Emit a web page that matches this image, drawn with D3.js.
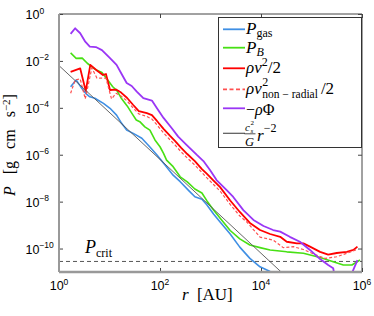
<!DOCTYPE html>
<html>
<head>
<meta charset="utf-8">
<script src="https://cdn.jsdelivr.net/npm/d3@7"></script>
<style>
  body { margin: 0; background: #fff; }
  svg text { font-family: "Liberation Serif", "DejaVu Serif", serif; fill: #000; }
  .tlab { font-family: "Liberation Sans", Arial, sans-serif; }
</style>
</head>
<body>
<div id="chart"></div>
<script>
// radial profiles: log10 r [AU], log10 P [g cm^-1 s^-2]
const rGas = [0.23,0.34,0.45,0.54,0.61,0.71,0.88,1.01,1.14,1.24,1.34,1.47,1.64,1.80,1.94,2.10,2.26,2.40,2.56,2.69,2.83,2.93,3.06,3.19,3.39,3.58,3.78,3.98,4.18,4.42];
const pGas = [-3.10,-2.81,-3.17,-3.41,-3.53,-3.59,-3.81,-4.02,-4.31,-4.66,-4.95,-5.09,-5.30,-5.67,-6.01,-6.44,-6.87,-7.15,-7.51,-7.79,-7.90,-8.14,-8.53,-8.87,-9.38,-9.94,-10.42,-10.78,-10.98,-11.05];

const rB = [0.23,0.34,0.46,0.56,0.71,0.85,0.95,1.06,1.15,1.23,1.35,1.45,1.53,1.60,1.70,1.80,1.90,2.00,2.07,2.13,2.26,2.40,2.54,2.69,2.83,2.93,3.06,3.22,3.39,3.58,3.78,3.98,4.18,4.51,4.84,5.17,5.43,5.63,5.80,5.96];
const pB = [-1.66,-1.89,-1.88,-2.10,-2.35,-2.49,-2.77,-3.09,-3.28,-3.58,-3.92,-4.26,-4.52,-4.59,-4.81,-4.95,-5.37,-5.66,-5.94,-6.23,-6.51,-6.94,-7.16,-7.46,-7.63,-7.97,-8.36,-8.78,-9.23,-9.59,-9.85,-9.96,-10.06,-10.14,-10.20,-10.38,-10.56,-10.70,-10.70,-10.49];

const rKin = [0.23,0.42,0.53,0.62,0.75,0.87,0.93,1.01,1.13,1.23,1.35,1.47,1.58,1.74,1.84,1.94,2.07,2.20,2.30,2.42,2.54,2.69,2.83,2.93,3.06,3.19,3.39,3.58,3.78,3.98,4.18,4.38,4.51,4.71,4.84,4.97,5.17,5.33,5.50,5.70,5.83,5.91];
const pKin = [-2.47,-2.32,-3.28,-2.17,-2.41,-2.60,-2.56,-3.24,-3.22,-3.35,-3.58,-3.88,-4.14,-4.23,-4.31,-4.56,-4.90,-5.20,-5.42,-5.71,-5.97,-6.27,-6.61,-6.82,-7.10,-7.38,-7.95,-8.44,-8.91,-9.21,-9.38,-9.50,-9.71,-9.78,-9.78,-9.92,-10.14,-10.26,-10.19,-10.14,-10.06,-9.92];

const rNr = [0.23,0.32,0.42,0.52,0.65,0.75,0.93,1.04,1.13,1.23,1.35,1.47,1.58,1.74,1.84,1.94,2.07,2.20,2.30,2.42,2.54,2.69,2.83,2.93,3.06,3.19,3.39,3.58,3.72,3.84,3.98,4.24,4.44,4.64,4.84,5.04,5.17,5.27,5.50,5.70,5.91];
const pNr = [-3.38,-2.81,-2.77,-3.62,-2.30,-2.73,-2.74,-3.62,-3.38,-3.50,-3.71,-4.01,-4.26,-4.37,-4.48,-4.73,-5.07,-5.37,-5.59,-5.88,-6.14,-6.44,-6.76,-6.99,-7.27,-7.55,-8.12,-8.61,-8.87,-9.17,-9.51,-9.64,-9.96,-9.92,-10.04,-10.23,-10.34,-10.42,-10.35,-10.20,-10.03];

const rPhi = [0.23,0.32,0.42,0.52,0.61,0.73,0.85,1.01,1.14,1.24,1.34,1.44,1.54,1.67,1.84,1.94,2.07,2.23,2.36,2.53,2.73,2.86,2.99,3.12,3.32,3.45,3.65,3.85,4.05,4.24,4.38,4.57,4.77,4.97,5.17,5.33,5.43,5.49,5.76,5.80,5.91];
const pPhi = [-0.85,-0.61,-0.82,-1.18,-1.39,-1.41,-1.54,-1.88,-2.17,-2.56,-2.94,-3.07,-3.31,-3.59,-3.69,-4.02,-4.43,-4.86,-5.23,-5.59,-6.01,-6.27,-6.65,-7.08,-7.51,-7.80,-8.36,-8.78,-9.04,-9.21,-9.28,-9.50,-9.71,-10.06,-10.45,-10.70,-10.84,-11.6,-11.6,-11.05,-10.49];

// cs^2/G r^-2 guide and critical pressure
const rFit = [0, 4.40];
const pFit = [-2.20, -11.0];
const pCrit = -10.55;

const xTicks = [0, 2, 4, 6];
const yTicks = [0, -2, -4, -6, -8, -10];

const width = 374, height = 316;
const margin = { top: 14, right: 12, bottom: 44, left: 59 };
const iw = width - margin.left - margin.right;
const ih = height - margin.top - margin.bottom;

const x = d3.scaleLog().domain([1, 1e6]).range([0, iw]);
const y = d3.scaleLog().domain([1e-11, 1]).range([ih, 0]);

const svg = d3.select("#chart").append("svg")
  .attr("width", width).attr("height", height);
const g = svg.append("g").attr("transform", `translate(${margin.left},${margin.top})`);

g.append("clipPath").attr("id", "clip")
  .append("rect").attr("width", iw).attr("height", ih);

const pts = (lr, lp) => lr.map((v, i) => ({ r: Math.pow(10, v), p: Math.pow(10, lp[i]) }));
const line = d3.line().x(d => x(d.r)).y(d => y(d.p));

const series = [
  { r: rGas, p: pGas, color: "#3f8fe4", w: 1.6 },
  { r: rB, p: pB, color: "#47e014", w: 1.6 },
  { r: rKin, p: pKin, color: "#ff0000", w: 1.8 },
  { r: rNr, p: pNr, color: "#ff5050", w: 1.2, dash: "3,2" },
  { r: rPhi, p: pPhi, color: "#9a36f5", w: 1.8 },
  { r: rFit, p: pFit, color: "#555", w: 0.9 }
];

const plot = g.append("g").attr("clip-path", "url(#clip)");

// P_crit
plot.append("line")
  .attr("x1", 0).attr("x2", iw)
  .attr("y1", y(Math.pow(10, pCrit))).attr("y2", y(Math.pow(10, pCrit)))
  .attr("stroke", "#555").attr("stroke-width", 1).attr("stroke-dasharray", "4,3");

plot.selectAll("path.s")
  .data(series)
  .join("path")
  .attr("class", "s")
  .attr("fill", "none")
  .attr("stroke", d => d.color)
  .attr("stroke-width", d => d.w)
  .attr("stroke-dasharray", d => d.dash || null)
  .attr("stroke-linejoin", "round")
  .attr("d", d => line(pts(d.r, d.p)));

// axes: inward ticks on all four sides
const xt = xTicks.map(v => Math.pow(10, v));
const yt = yTicks.map(v => Math.pow(10, v));
const tickStyle = ax => ax.call(a => a.select(".domain").remove())
  .call(a => a.selectAll("line").attr("stroke", "#444"));

g.append("g").attr("transform", `translate(0,${ih})`)
  .call(d3.axisBottom(x).tickValues(xt).tickSize(-4).tickFormat("")).call(tickStyle);
g.append("g")
  .call(d3.axisTop(x).tickValues(xt).tickSize(-4).tickFormat("")).call(tickStyle);
g.append("g")
  .call(d3.axisLeft(y).tickValues(yt).tickSize(-4).tickFormat("")).call(tickStyle);
g.append("g").attr("transform", `translate(${iw},0)`)
  .call(d3.axisRight(y).tickValues(yt).tickSize(-4).tickFormat("")).call(tickStyle);

// frame
g.append("line").attr("x1", 0).attr("x2", iw).attr("y1", 0).attr("y2", 0).attr("stroke", "#444").attr("stroke-width", 1);
g.append("line").attr("x1", iw).attr("x2", iw).attr("y1", 0).attr("y2", ih).attr("stroke", "#444").attr("stroke-width", 1);
g.append("line").attr("x1", 0).attr("x2", 0).attr("y1", 0).attr("y2", ih).attr("stroke", "#999").attr("stroke-width", 2);
g.append("line").attr("x1", 0).attr("x2", iw).attr("y1", ih).attr("y2", ih).attr("stroke", "#999").attr("stroke-width", 2.4);

// tick labels 10^n
const fmtExp = v => (v < 0 ? "\u2212" + (-v) : "" + v);
function powLabel(sel) {
  sel.append("tspan").text("10");
  sel.append("tspan").attr("font-size", 8.5).attr("dy", -5.5).text(d => fmtExp(d));
}
g.selectAll("text.xl").data(xTicks).join("text")
  .attr("class", "xl tlab")
  .attr("font-size", 12.5)
  .attr("text-anchor", "middle")
  .attr("x", d => x(Math.pow(10, d)))
  .attr("y", ih + 18)
  .call(powLabel);
g.selectAll("text.yl").data(yTicks).join("text")
  .attr("class", "yl tlab")
  .attr("font-size", 12.5)
  .attr("x", 25.5 - margin.left)
  .attr("y", d => y(Math.pow(10, d)) + 5)
  .call(powLabel);

// axis titles
const xTitle = svg.append("text").attr("x", 182).attr("y", 300).attr("font-size", 17)
  .attr("word-spacing", 4);
xTitle.append("tspan").attr("font-style", "italic").text("r");
xTitle.append("tspan").text(" [AU]");

const yTitle = svg.append("text")
  .attr("transform", "translate(15,196) rotate(-90)")
  .attr("font-size", 16).attr("word-spacing", 8);
yTitle.append("tspan").attr("font-style", "italic").text("P");
yTitle.append("tspan").text(" [g cm s");
yTitle.append("tspan").attr("font-size", 11).attr("dy", -5).text("\u22122");
yTitle.append("tspan").attr("dy", 5).text("]");

// P_crit label
const pc = g.append("text").attr("x", 85 - margin.left).attr("y", 253 - margin.top).attr("font-size", 18);
pc.append("tspan").attr("font-style", "italic").text("P");
pc.append("tspan").attr("font-size", 12).attr("dy", 4).text("crit");

// legend
const lg = svg.append("g").attr("transform", "translate(218,17)");
lg.append("rect").attr("x", 0.5).attr("y", 0.5).attr("width", 143).attr("height", 130)
  .attr("fill", "#fff").attr("stroke", "#333").attr("stroke-width", 1);

const rowsY = [12.3, 30.7, 51.3, 72.3, 91.3, 116.3];
lg.selectAll("line.k").data(series).join("line")
  .attr("class", "k")
  .attr("x1", 5).attr("x2", 27)
  .attr("y1", (d, i) => rowsY[i]).attr("y2", (d, i) => rowsY[i])
  .attr("stroke", d => d.color)
  .attr("stroke-width", (d, i) => i === 5 ? 1.2 : 1.8)
  .attr("stroke-dasharray", d => d.dash ? "4,2.5" : null);

const tx = 28;
// P_gas
let t = lg.append("text").attr("x", tx).attr("y", rowsY[0] + 5).attr("font-size", 17);
t.append("tspan").attr("font-style", "italic").text("P");
t.append("tspan").attr("font-size", 12).attr("dy", 3).text("gas");
// P_B
t = lg.append("text").attr("x", tx).attr("y", rowsY[1] + 5).attr("font-size", 17);
t.append("tspan").attr("font-style", "italic").text("P");
t.append("tspan").attr("font-size", 12).attr("font-style", "italic").attr("dy", 3).text("B");
// rho v^2 / 2
t = lg.append("text").attr("x", tx).attr("y", rowsY[2] + 5).attr("font-size", 17);
t.append("tspan").attr("font-style", "italic").text("\u03C1v");
t.append("tspan").attr("font-size", 12).attr("dy", -7).text("2");
t.append("tspan").attr("dy", 7).text("/2");
// rho v^2_non-radial / 2
const base = lg.append("text").attr("x", tx).attr("y", rowsY[3] + 5).attr("font-size", 17)
  .attr("font-style", "italic").text("\u03C1v");
const bw = base.node().getComputedTextLength();
lg.append("text").attr("x", tx + bw + 0.5).attr("y", rowsY[3] - 3.5).attr("font-size", 12).text("2");
const sub = lg.append("text").attr("x", tx + bw + 0.5).attr("y", rowsY[3] + 8.5).attr("font-size", 11.5)
  .text("non \u2212 radial");
const sw = sub.node().getComputedTextLength();
lg.append("text").attr("x", tx + bw + sw + 3.5).attr("y", rowsY[3] + 5).attr("font-size", 17).text("/2");
// -rho Phi
t = lg.append("text").attr("x", tx).attr("y", rowsY[4] + 6.3).attr("font-size", 16);
t.append("tspan").text("\u2212");
t.append("tspan").attr("font-style", "italic").text("\u03C1");
t.append("tspan").text("\u03A6");
// cs^2/G r^-2
lg.append("text").attr("x", tx - 1).attr("y", rowsY[5] - 2.5).attr("font-size", 11).attr("font-style", "italic").text("c");
lg.append("text").attr("x", tx + 4.5).attr("y", rowsY[5] - 8).attr("font-size", 7).text("2");
lg.append("text").attr("x", tx + 4.5).attr("y", rowsY[5] - 0.8).attr("font-size", 7).attr("font-style", "italic").text("s");
lg.append("line").attr("x1", tx - 1.5).attr("x2", tx + 9.5)
  .attr("y1", rowsY[5] + 0.5).attr("y2", rowsY[5] + 0.5).attr("stroke", "#000").attr("stroke-width", 0.7);
lg.append("text").attr("x", tx - 1).attr("y", rowsY[5] + 12.5).attr("font-size", 12.5).attr("font-style", "italic").text("G");
t = lg.append("text").attr("x", tx + 11).attr("y", rowsY[5] + 8).attr("font-size", 17);
t.append("tspan").attr("font-style", "italic").text("r");
t.append("tspan").attr("font-size", 12).attr("dy", -9).text("\u22122");
</script>
</body>
</html>
